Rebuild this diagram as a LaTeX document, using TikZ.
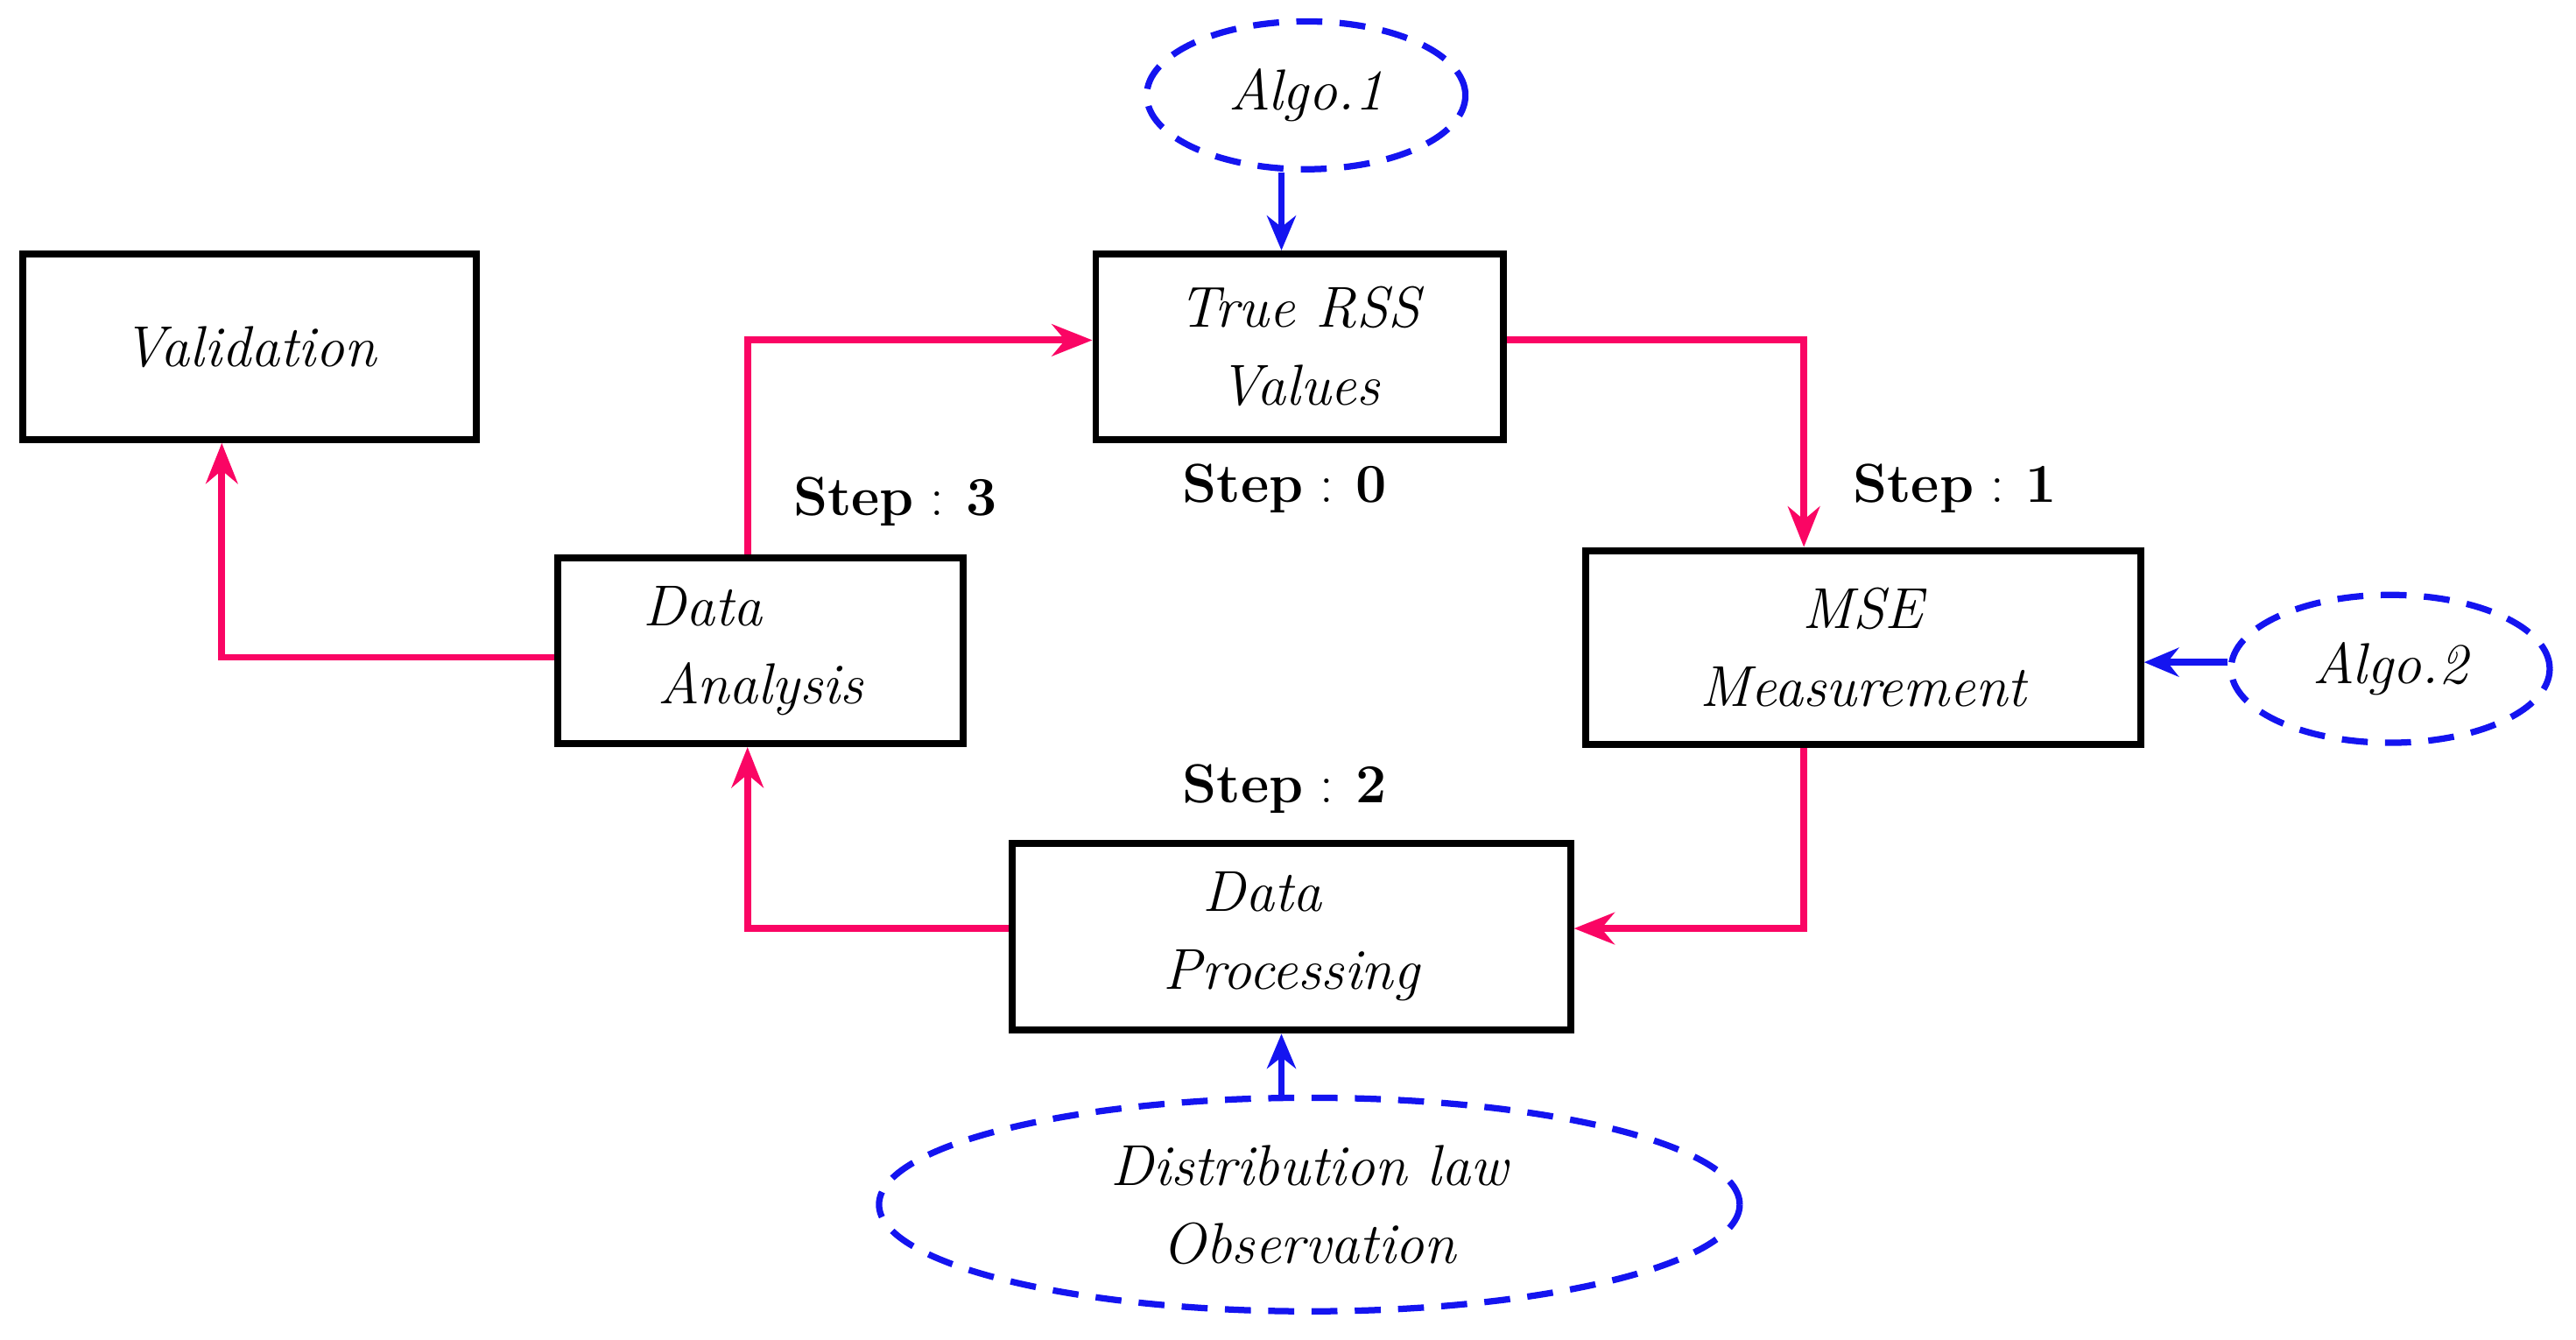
\documentclass[tikz,border=0pt]{standalone}
\usepackage{tikz}
\usetikzlibrary{shapes.geometric,arrows.meta}
\definecolor{pk}{RGB}{250,5,100}
\definecolor{bl}{RGB}{20,20,240}
\begin{document}
\begin{tikzpicture}[x=0.02cm,y=-0.02cm,
 box/.style={draw,line width=2.4pt,inner sep=0pt,font=\fontsize{20}{27}\selectfont\itshape,align=center},
 ell/.style={draw=bl,dashed,dash pattern=on 9pt off 6pt,line width=2.2pt,ellipse,inner sep=0pt,font=\fontsize{20}{27}\selectfont\itshape,align=center},
 pa/.style={draw=pk,line width=2.4pt,-{Stealth[length=14pt,width=11pt]}},
 ba/.style={draw=bl,line width=2.4pt,-{Stealth[length=12pt,width=10pt]}},
 st/.style={font=\fontsize{19}{22}\selectfont}]
\useasboundingbox (0,0) rectangle (1568,815);
\node[box,minimum width=276\pgflinewidth] (val) at (152,211) [minimum width=5.52cm,minimum height=2.26cm] {Validation};
\node[box,minimum width=4.96cm,minimum height=2.26cm] (rss) at (791,211) {True RSS\\Values};
\node[box,minimum width=4.94cm,minimum height=2.26cm] (da) at (463,396) {Data\hspace*{2em}\\Analysis};
\node[box,minimum width=6.76cm,minimum height=2.36cm] (mse) at (1134,394) {MSE\\Measurement};
\node[box,minimum width=6.8cm,minimum height=2.28cm] (dp) at (786,570) {Data\hspace*{1em}\\Processing};
\node[ell,minimum width=3.88cm,minimum height=1.8cm] (a1) at (795,58) {Algo.1};
\node[ell,minimum width=3.88cm,minimum height=1.8cm] (a2) at (1455,407) {Algo.2};
\node[ell,minimum width=10.48cm,minimum height=2.6cm] (dl) at (797,733) {Distribution law\\Observation};
\coordinate (c1) at (455,207);
\coordinate (c2) at (1098,207);
\coordinate (c3) at (1098,565);
\coordinate (c4) at (455,565);
\coordinate (c5) at (135,400);
\draw[pa] (da.north -| c1) -- (c1) -- (rss.west |- c1);
\draw[pa] (rss.east |- c2) -- (c2) -- (mse.north -| c2);
\draw[pa] (mse.south -| c3) -- (c3) -- (dp.east |- c3);
\draw[pa] (dp.west |- c4) -- (c4) -- (da.south -| c4);
\draw[pa] (da.west |- c5) -- (c5) -- (val.south -| c5);
\draw[ba] (a1.south -| 780,0) -- (rss.north -| 780,0);
\draw[ba] (a2.west |- 0,403) -- (mse.east |- 0,403);
\draw[ba] (dl.north -| 780,0) -- (dp.south -| 780,0);
\node[st] (s0) at (782,297) {\textbf{Step} : \textbf{0}};
\node[st] (s1) at (1190,297) {\textbf{Step} : \textbf{1}};
\node[st] (s2) at (782,480) {\textbf{Step} : \textbf{2}};
\node[st] (s3) at (545,305) {\textbf{Step} : \textbf{3}};
\end{tikzpicture}
\end{document}
